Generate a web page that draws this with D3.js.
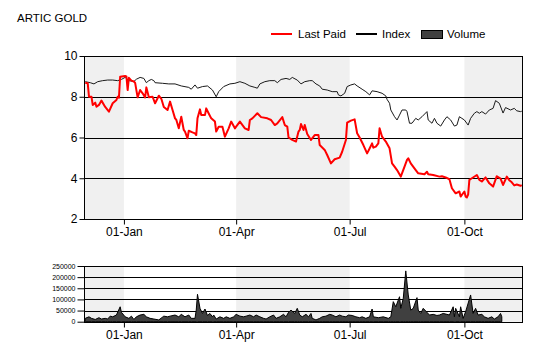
<!DOCTYPE html>
<html><head><meta charset="utf-8">
<script src="https://cdn.jsdelivr.net/npm/d3@7"></script>
<style>
body{margin:0;background:#fff;}
svg{display:block;font-family:"Liberation Sans",Arial,sans-serif;}
</style></head><body>
<svg id="c" width="540" height="360"></svg>
<script>
const title = "ARTIC GOLD";
const seriesNames = ["Last Paid","Index","Volume"];
const xTickDates = ["2014-01-01","2014-04-01","2014-07-01","2014-10-01"];
const priceTicks = [2,4,6,8,10];
const volumeTicks = [0,50000,100000,150000,200000,250000];
const shadedBands = [["2013-11-30","2014-01-01"],["2014-04-01","2014-07-01"],["2014-10-01","2014-11-17"]];
const xDomain = ["2013-11-30","2014-11-17"];

const lastPaidDates = ["2013-12-01","2013-12-03","2013-12-04","2013-12-06","2013-12-07","2013-12-09","2013-12-10","2013-12-12","2013-12-14","2013-12-17","2013-12-20","2013-12-23","2013-12-26","2013-12-27","2013-12-28","2013-12-29","2014-01-02","2014-01-03","2014-01-04","2014-01-05","2014-01-07","2014-01-09","2014-01-10","2014-01-12","2014-01-14","2014-01-16","2014-01-18","2014-01-19","2014-01-21","2014-01-24","2014-01-26","2014-01-29","2014-01-31","2014-02-02","2014-02-05","2014-02-07","2014-02-09","2014-02-11","2014-02-12","2014-02-14","2014-02-16","2014-02-18","2014-02-19","2014-02-21","2014-02-22","2014-02-25","2014-02-27","2014-02-28","2014-03-01","2014-03-03","2014-03-04","2014-03-07","2014-03-08","2014-03-10","2014-03-12","2014-03-15","2014-03-16","2014-03-18","2014-03-21","2014-03-23","2014-03-26","2014-03-28","2014-03-31","2014-04-01","2014-04-04","2014-04-08","2014-04-11","2014-04-12","2014-04-14","2014-04-18","2014-04-21","2014-04-26","2014-04-29","2014-05-02","2014-05-04","2014-05-08","2014-05-10","2014-05-12","2014-05-13","2014-05-16","2014-05-19","2014-05-21","2014-05-22","2014-05-23","2014-05-25","2014-05-26","2014-05-28","2014-05-31","2014-06-03","2014-06-06","2014-06-07","2014-06-11","2014-06-13","2014-06-16","2014-06-19","2014-06-23","2014-06-25","2014-06-28","2014-06-29","2014-07-02","2014-07-05","2014-07-07","2014-07-09","2014-07-12","2014-07-15","2014-07-17","2014-07-19","2014-07-20","2014-07-22","2014-07-24","2014-07-25","2014-07-27","2014-07-30","2014-08-02","2014-08-04","2014-08-06","2014-08-08","2014-08-11","2014-08-14","2014-08-16","2014-08-17","2014-08-19","2014-08-23","2014-08-25","2014-08-30","2014-09-01","2014-09-02","2014-09-06","2014-09-11","2014-09-13","2014-09-16","2014-09-19","2014-09-21","2014-09-24","2014-09-27","2014-09-28","2014-10-01","2014-10-02","2014-10-03","2014-10-04","2014-10-05","2014-10-07","2014-10-11","2014-10-13","2014-10-15","2014-10-18","2014-10-21","2014-10-24","2014-10-27","2014-10-30","2014-11-01","2014-11-04","2014-11-06","2014-11-08","2014-11-10","2014-11-12","2014-11-15","2014-11-16"];
const lastPaidValues = [8.69,8.66,8.0,8.0,7.6,7.71,7.51,7.6,7.81,7.5,7.27,7.68,7.84,8.0,7.95,8.98,9.02,9.0,8.33,8.93,8.79,8.75,8.68,7.97,8.33,8.17,7.97,8.46,7.97,8.0,7.68,8.05,7.9,7.5,7.35,7.76,7.35,6.94,6.87,6.45,7.02,6.37,6.29,5.96,6.33,6.25,6.2,6.12,6.94,7.38,7.1,7.1,7.43,7.18,6.94,6.78,6.29,6.53,6.53,6.04,6.45,6.78,6.45,6.53,6.78,6.45,6.37,6.86,6.94,7.19,7.0,6.94,6.86,6.61,6.69,7.0,6.61,6.53,6.0,5.88,5.8,6.29,6.37,6.66,6.37,6.61,6.17,5.88,6.12,6.12,5.63,5.39,5.14,4.73,4.93,5.01,5.3,5.88,6.73,6.83,6.89,6.21,6.0,5.63,5.22,5.46,5.71,5.5,5.55,5.71,6.45,6.04,5.8,5.47,4.73,4.57,4.4,4.08,4.57,4.9,4.98,4.73,4.4,4.24,4.2,4.32,4.2,4.16,4.08,4.1,4.04,3.95,3.51,3.26,3.35,3.1,3.35,3.1,3.06,3.2,3.92,4.0,4.16,3.92,3.84,4.04,3.75,3.59,4.1,3.98,3.67,4.08,3.9,3.8,3.65,3.69,3.63,3.66];

const indexDates = ["2013-12-01","2013-12-05","2013-12-08","2013-12-11","2013-12-15","2013-12-19","2013-12-23","2013-12-27","2013-12-30","2014-01-02","2014-01-05","2014-01-09","2014-01-11","2014-01-14","2014-01-17","2014-01-19","2014-01-21","2014-01-23","2014-01-25","2014-01-26","2014-02-01","2014-02-06","2014-02-11","2014-02-16","2014-02-22","2014-02-24","2014-02-27","2014-03-01","2014-03-05","2014-03-09","2014-03-13","2014-03-16","2014-03-18","2014-03-22","2014-03-27","2014-03-31","2014-04-04","2014-04-08","2014-04-12","2014-04-16","2014-04-18","2014-04-20","2014-04-24","2014-04-28","2014-05-02","2014-05-04","2014-05-07","2014-05-11","2014-05-14","2014-05-16","2014-05-19","2014-05-20","2014-05-23","2014-05-26","2014-05-30","2014-06-01","2014-06-04","2014-06-07","2014-06-09","2014-06-13","2014-06-17","2014-06-21","2014-06-22","2014-06-24","2014-06-27","2014-06-29","2014-07-02","2014-07-05","2014-07-07","2014-07-11","2014-07-14","2014-07-17","2014-07-19","2014-07-23","2014-07-27","2014-07-30","2014-07-31","2014-08-02","2014-08-03","2014-08-06","2014-08-08","2014-08-10","2014-08-12","2014-08-15","2014-08-16","2014-08-18","2014-08-20","2014-08-23","2014-08-25","2014-08-28","2014-09-01","2014-09-02","2014-09-05","2014-09-07","2014-09-09","2014-09-12","2014-09-15","2014-09-17","2014-09-20","2014-09-23","2014-09-25","2014-09-27","2014-09-29","2014-10-01","2014-10-04","2014-10-06","2014-10-09","2014-10-11","2014-10-13","2014-10-15","2014-10-18","2014-10-21","2014-10-24","2014-10-26","2014-10-29","2014-11-01","2014-11-03","2014-11-07","2014-11-10","2014-11-12","2014-11-15","2014-11-16"];
const indexValues = [8.74,8.69,8.63,8.74,8.79,8.82,8.82,8.79,8.85,8.95,8.79,8.75,8.86,8.95,8.9,8.69,8.79,8.85,8.79,8.69,8.66,8.63,8.63,8.53,8.46,8.37,8.58,8.42,8.5,8.53,8.33,8.0,8.25,8.5,8.63,8.66,8.74,8.66,8.53,8.46,8.42,8.63,8.74,8.79,8.79,8.69,8.85,8.9,8.85,8.95,8.85,8.82,8.63,8.74,8.79,8.79,8.63,8.53,8.37,8.33,8.25,8.25,8.09,8.04,8.17,8.5,8.58,8.63,8.53,8.37,8.25,8.09,8.29,8.25,8.17,8.04,7.87,7.68,7.35,7.02,6.86,7.1,7.35,7.35,7.27,6.7,6.7,6.94,6.86,7.02,7.27,6.86,6.7,6.94,6.7,6.56,6.86,7.02,6.86,6.56,6.61,7.02,6.94,6.86,6.61,6.94,7.19,7.27,7.19,7.27,7.15,7.35,7.43,7.81,7.68,7.2,7.47,7.35,7.43,7.31,7.27,7.29];

const volumeDates = ["2013-12-01","2013-12-04","2013-12-06","2013-12-09","2013-12-12","2013-12-14","2013-12-17","2013-12-19","2013-12-21","2013-12-23","2013-12-26","2013-12-29","2013-12-30","2014-01-02","2014-01-05","2014-01-07","2014-01-09","2014-01-11","2014-01-14","2014-01-17","2014-01-19","2014-01-22","2014-01-25","2014-01-29","2014-02-02","2014-02-05","2014-02-07","2014-02-11","2014-02-14","2014-02-16","2014-02-19","2014-02-22","2014-02-24","2014-02-27","2014-02-28","2014-03-01","2014-03-03","2014-03-05","2014-03-07","2014-03-09","2014-03-11","2014-03-13","2014-03-14","2014-03-16","2014-03-19","2014-03-22","2014-03-24","2014-03-27","2014-03-30","2014-04-01","2014-04-04","2014-04-07","2014-04-09","2014-04-12","2014-04-15","2014-04-17","2014-04-20","2014-04-23","2014-04-25","2014-04-28","2014-05-01","2014-05-03","2014-05-06","2014-05-09","2014-05-11","2014-05-13","2014-05-15","2014-05-18","2014-05-20","2014-05-22","2014-05-24","2014-05-27","2014-05-29","2014-05-31","2014-06-01","2014-06-04","2014-06-07","2014-06-09","2014-06-12","2014-06-15","2014-06-17","2014-06-20","2014-06-23","2014-06-25","2014-06-28","2014-06-30","2014-07-03","2014-07-06","2014-07-09","2014-07-11","2014-07-14","2014-07-17","2014-07-19","2014-07-20","2014-07-24","2014-07-28","2014-08-01","2014-08-03","2014-08-05","2014-08-07","2014-08-10","2014-08-11","2014-08-13","2014-08-15","2014-08-17","2014-08-19","2014-08-21","2014-08-24","2014-08-25","2014-08-27","2014-08-29","2014-09-01","2014-09-03","2014-09-06","2014-09-09","2014-09-11","2014-09-14","2014-09-17","2014-09-19","2014-09-22","2014-09-23","2014-09-24","2014-09-27","2014-09-28","2014-09-30","2014-10-02","2014-10-06","2014-10-08","2014-10-10","2014-10-12","2014-10-15","2014-10-17","2014-10-20","2014-10-23","2014-10-25","2014-10-28","2014-10-30","2014-10-31"];
const volumeValues = [15000,22000,15000,10000,18000,12000,15000,12000,25000,22000,30000,67000,42000,22000,15000,25000,10000,22000,30000,33000,22000,15000,12000,8000,25000,22000,25000,30000,22000,33000,22000,30000,15000,15000,52000,123000,60000,37000,57000,28000,37000,22000,30000,12000,22000,15000,22000,15000,22000,33000,25000,22000,25000,30000,22000,30000,22000,15000,12000,22000,30000,15000,22000,33000,22000,42000,52000,37000,60000,30000,22000,33000,22000,37000,15000,8000,15000,22000,25000,33000,30000,22000,30000,25000,22000,30000,28000,22000,18000,22000,15000,22000,57000,22000,18000,22000,15000,22000,90000,67000,112000,60000,105000,228000,120000,52000,60000,108000,52000,37000,60000,42000,30000,33000,28000,30000,37000,33000,30000,67000,22000,60000,22000,67000,15000,45000,120000,37000,60000,30000,33000,22000,15000,22000,12000,22000,37000,22000];

const parse = d3.utcParse("%Y-%m-%d");
const svg = d3.select("#c");
const FONT = "\"Liberation Sans\",Arial,sans-serif";

const L = 84, R = 523;
const mainTop = 56, mainBot = 219;
const volTop = 266, volBot = 321.7;

const x = d3.scaleUtc().domain(xDomain.map(parse)).range([L, R]);
const y = d3.scaleLinear().domain([2,10]).range([mainBot, mainTop]);
const yv = d3.scaleLinear().domain([0,250000]).range([volBot, volTop]);

// title
svg.append("text").attr("x",17).attr("y",21.5).attr("font-size",11.5).attr("fill","#000").text(title);

// legend
const lg = svg.append("g").attr("font-size",11.5);
lg.append("line").attr("x1",271).attr("x2",292).attr("y1",34).attr("y2",34).attr("stroke","#ff0000").attr("stroke-width",2);
lg.append("text").attr("x",298).attr("y",38).text(seriesNames[0]);
lg.append("line").attr("x1",356).attr("x2",377).attr("y1",34).attr("y2",34).attr("stroke","#000").attr("stroke-width",2);
lg.append("text").attr("x",382).attr("y",38).text(seriesNames[1]);
lg.append("rect").attr("x",421.5).attr("y",30.5).attr("width",21).attr("height",8).attr("fill","#404040").attr("stroke","#000");
lg.append("text").attr("x",447).attr("y",38).text(seriesNames[2]);

function panel(top, bot, yscale, ticks, tickFmt, tickFont, labelY) {
  const g = svg.append("g");
  // bands
  g.selectAll("rect.band").data(shadedBands).join("rect")
    .attr("x", d => x(parse(d[0]))).attr("width", d => x(parse(d[1])) - x(parse(d[0])))
    .attr("y", top).attr("height", bot - top).attr("fill", "#f0f0f0");
  // gridlines
  g.selectAll("line.grid").data(ticks).join("line")
    .attr("x1", L).attr("x2", R)
    .attr("y1", d => Math.round(yscale(d)) + 0.5).attr("y2", d => Math.round(yscale(d)) + 0.5)
    .attr("stroke", "#000").attr("stroke-width", 1);
  return g;
}

function frame(top, bot) {
  svg.append("rect").attr("x", L + 0.5).attr("y", Math.round(top) + 0.5)
    .attr("width", R - L - 1).attr("height", Math.round(bot) - Math.round(top))
    .attr("fill", "none").attr("stroke", "#000");
}

function axes(top, bot, yscale, ticks, fmt, fsize, xLabelSize, ytickLen) {
  const ya = svg.append("g").attr("transform", `translate(${L + 0.5},0)`)
    .call(d3.axisLeft(yscale).tickValues(ticks).tickFormat(fmt).tickSize(ytickLen).tickPadding(2));
  ya.select(".domain").remove();
  ya.selectAll("text").attr("font-size", fsize).attr("font-family", FONT).attr("fill", "#000");
  ya.selectAll("line").attr("stroke", "#000");
  const xa = svg.append("g").attr("transform", `translate(0,${Math.round(bot) + 0.5})`)
    .call(d3.axisBottom(x).tickValues(xTickDates.map(parse)).tickFormat(d3.utcFormat("%d-%b")).tickSize(5).tickPadding(3));
  xa.select(".domain").remove();
  xa.selectAll("text").attr("font-size", xLabelSize).attr("font-family", FONT).attr("fill", "#000");
  xa.selectAll("line").attr("stroke", "#000");
}

// main panel
panel(mainTop, mainBot, y, priceTicks);
const clip = svg.append("clipPath").attr("id","mc").append("rect").attr("x",L).attr("y",mainTop).attr("width",R-L).attr("height",mainBot-mainTop);

const idx = indexDates.map((d,i) => ({d: parse(d), v: indexValues[i]}));
const lp = lastPaidDates.map((d,i) => ({d: parse(d), v: lastPaidValues[i]}));
const line = d3.line().x(p => x(p.d)).y(p => y(p.v));
svg.append("path").datum(idx).attr("d", line).attr("fill","none").attr("stroke","#1a1a1a").attr("stroke-width",1).attr("clip-path","url(#mc)");
svg.append("path").datum(lp).attr("d", line).attr("fill","none").attr("stroke","#ff0000").attr("stroke-width",2).attr("stroke-linejoin","round").attr("clip-path","url(#mc)");
frame(mainTop, mainBot);
axes(mainTop, mainBot, y, priceTicks, d3.format("d"), 12, 12, 5);

// volume panel
panel(volTop, volBot, yv, volumeTicks);
const vol = volumeDates.map((d,i) => ({d: parse(d), v: volumeValues[i]}));
const area = d3.area().x(p => x(p.d)).y0(yv(0)).y1(p => yv(p.v));
svg.append("path").datum(vol).attr("d", area).attr("fill","#404040").attr("stroke","#000").attr("stroke-width",1).attr("stroke-linejoin","round");
frame(volTop, volBot);
axes(volTop, volBot, yv, volumeTicks, d3.format("d"), 7, 12, 7);
</script>
</body></html>
